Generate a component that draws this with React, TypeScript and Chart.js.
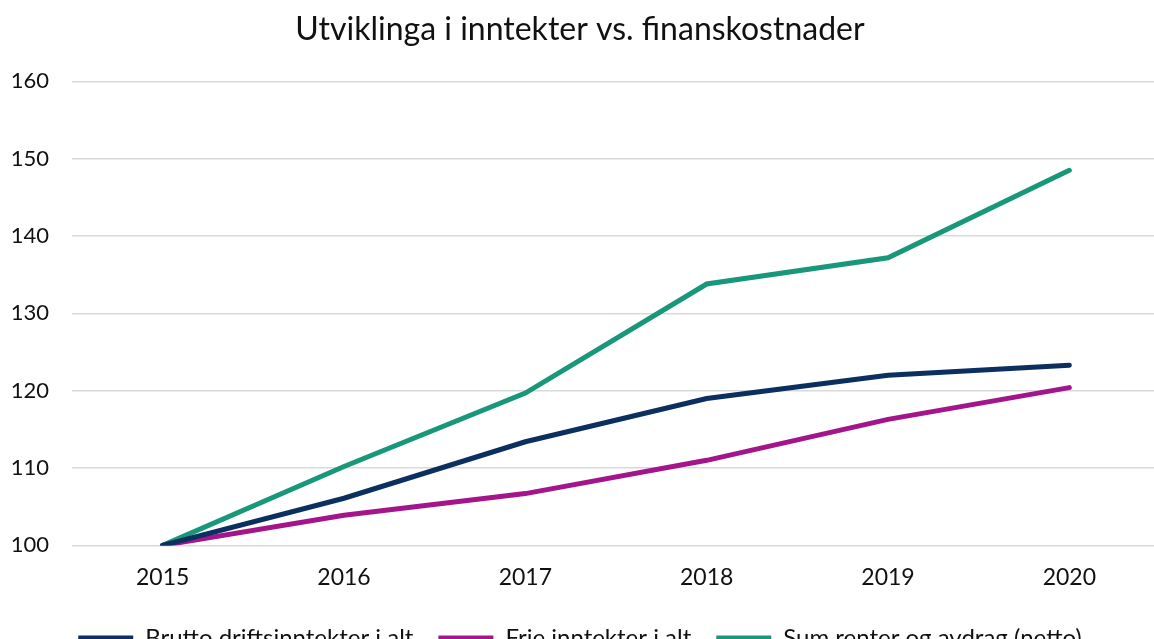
import React, { useEffect, useRef } from "react";
import { Chart, registerables } from "chart.js";

Chart.register(...registerables);

const years = ["2015", "2016", "2017", "2018", "2019", "2020"];
const bruttoDrift = [100, 106.1, 113.4, 119.0, 122.0, 123.3];
const frieInntekter = [100, 103.9, 106.7, 111.0, 116.3, 120.4];
const sumRenter = [100, 110.2, 119.7, 133.8, 137.2, 148.5];
const yTicks = [100, 110, 120, 130, 140, 150, 160];

const FONT = "Lato";

export default function App() {
  const ref = useRef<HTMLCanvasElement | null>(null);
  useEffect(() => {
    if (!ref.current) return;
    const chart = new Chart(ref.current, {
      type: "line",
      data: {
        labels: years,
        datasets: [
          {
            label: "Brutto driftsinntekter i alt",
            data: bruttoDrift,
            borderColor: "#0b2f5f",
            backgroundColor: "#0b2f5f",
            borderWidth: 5,
            pointRadius: 0,
            tension: 0,
            borderCapStyle: "round",
          },
          {
            label: "Frie inntekter i alt",
            data: frieInntekter,
            borderColor: "#a3168b",
            backgroundColor: "#a3168b",
            borderWidth: 5,
            pointRadius: 0,
            tension: 0,
            borderCapStyle: "round",
          },
          {
            label: "Sum renter og avdrag (netto)",
            data: sumRenter,
            borderColor: "#18977b",
            backgroundColor: "#18977b",
            borderWidth: 5,
            pointRadius: 0,
            tension: 0,
            borderCapStyle: "round",
          },
        ],
      },
      options: {
        animation: false,
        responsive: true,
        maintainAspectRatio: false,
        layout: { padding: { left: 0, right: 0, top: 8, bottom: 0 } },
        plugins: {
          title: {
            display: true,
            text: "Utviklinga i inntekter vs. finanskostnader",
            color: "#111",
            font: { family: FONT, size: 32, weight: "normal" },
            padding: { top: 2, bottom: 33 },
          },
          legend: {
            position: "bottom",
            labels: {
              usePointStyle: true,
              pointStyle: "line",
              pointStyleWidth: 55,
              color: "#111",
              font: { family: FONT, size: 24 },
              padding: 25,
            },
          },
          tooltip: { enabled: false },
        },
        scales: {
          x: {
            offset: true,
            grid: { display: false },
            border: { display: false },
            ticks: {
              color: "#111",
              font: { family: FONT, size: 23 },
              padding: 10,
            },
          },
          y: {
            min: 100,
            max: 160,
            afterBuildTicks: (axis: any) => {
              axis.ticks = yTicks.map((v) => ({ value: v }));
            },
            afterFit: (axis: any) => {
              axis.width = 72;
            },
            grid: { color: "#d9d9d9", lineWidth: 1.5, drawTicks: false },
            border: { display: false },
            ticks: {
              color: "#111",
              font: { family: FONT, size: 22 },
              padding: 23,
            },
          },
        },
      },
    });
    return () => chart.destroy();
  }, []);
  return (
    <div style={{ position: "fixed", left: 0, top: 0, right: 0, bottom: 0, overflow: "hidden", background: "#fff" }}>
      <div style={{ position: "absolute", left: 0, top: 0, width: 1160, height: 660 }}>
        <canvas ref={ref} />
      </div>
    </div>
  );
}
